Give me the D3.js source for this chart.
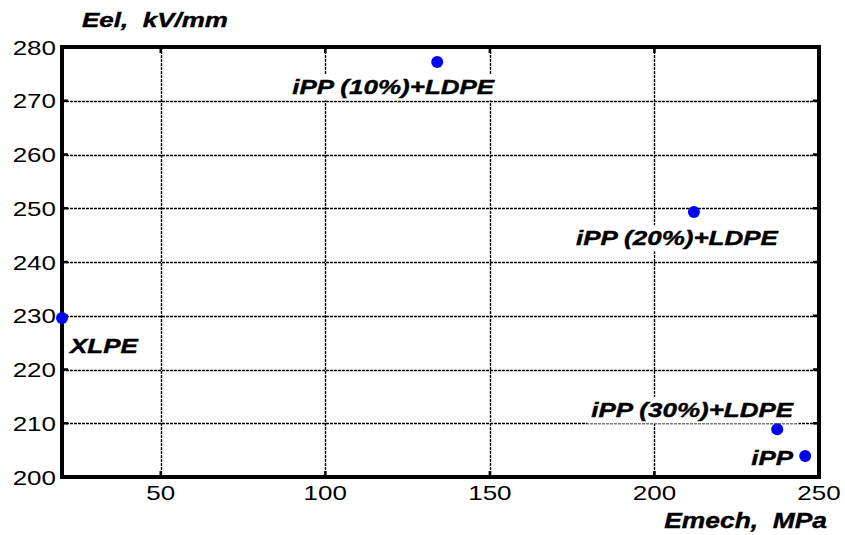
<!DOCTYPE html>
<html>
<head>
<meta charset="utf-8">
<script src="https://cdn.jsdelivr.net/npm/d3@7"></script>
<style>
  body { margin: 0; background: #fff; }
  svg { display: block; }
  text { white-space: pre; }
</style>
</head>
<body>
<div id="chart"></div>
<script>
// Datos
const materials = ["iPP (10%)+LDPE", "iPP (20%)+LDPE", "XLPE", "iPP (30%)+LDPE", "iPP"];
const emech = [134, 212, 20, 237.3, 245.8];
const eel = [277.2, 249.3, 229.6, 208.9, 203.9];
const xTicks = [50, 100, 150, 200, 250];
const yTicks = [200, 210, 220, 230, 240, 250, 260, 270, 280];

// Posición de cada etiqueta respecto a su punto (dx, dy, anclaje)
const labelLayout = [
    {dx: -44, dy: 32, anchor: "middle"},
    {dx: -17, dy: 33, anchor: "middle"},
    {dx: 8, dy: 35, anchor: "start"},
    {dx: -85, dy: -12, anchor: "middle"},
    {dx: -12, dy: 9, anchor: "end"}
];

const W = 845, H = 535;
const plot = {left: 62, right: 819, top: 47, bottom: 477};
const sx = 1.3; // estiramiento horizontal del texto
const font = "'Liberation Sans', Arial, sans-serif";

const svg = d3.select("#chart").append("svg")
    .attr("width", W)
    .attr("height", H);

const x = d3.scaleLinear().domain([20, 250]).range([plot.left, plot.right]);
const y = d3.scaleLinear().domain([200, 280]).range([plot.bottom, plot.top]);

// Texto estirado horizontalmente
function stretchedText(parent, px, py, str, opts) {
    const g = parent.append("g")
        .attr("transform", `translate(${px},${py}) scale(${opts.scale || sx},1)`);
    const t = g.append("text")
        .attr("x", 0)
        .attr("y", 0)
        .attr("text-anchor", opts.anchor || "start")
        .attr("font-family", font)
        .attr("font-size", opts.size || 20)
        .attr("font-weight", opts.bold ? "bold" : "normal")
        .attr("font-style", opts.italic ? "italic" : "normal")
        .attr("fill", "#000")
        .text(str);
    if (opts.bold) t.attr("stroke", "#000").attr("stroke-width", 0.4);
    return {g, t};
}

// Cuadrícula punteada
svg.append("g")
    .selectAll("line")
    .data(xTicks.filter(d => d < 250))
    .enter().append("line")
    .attr("x1", d => Math.round(x(d)) + 0.5).attr("x2", d => Math.round(x(d)) + 0.5)
    .attr("y1", plot.top).attr("y2", plot.bottom)
    .attr("stroke", "#000")
    .attr("stroke-width", 1.4)
    .attr("stroke-dasharray", "3,1");

svg.append("g")
    .selectAll("line")
    .data(yTicks.filter(d => d > 200 && d < 280))
    .enter().append("line")
    .attr("x1", plot.left).attr("x2", plot.right)
    .attr("y1", d => Math.round(y(d)) + 0.5).attr("y2", d => Math.round(y(d)) + 0.5)
    .attr("stroke", "#000")
    .attr("stroke-width", 1.4)
    .attr("stroke-dasharray", "3,1");

// Etiquetas de los materiales con fondo blanco
const labels = svg.append("g");
materials.forEach((name, i) => {
    const L = labelLayout[i];
    const px = x(emech[i]) + L.dx;
    const py = y(eel[i]) + L.dy;
    const {g, t} = stretchedText(labels, px, py, name, {bold: true, italic: true, anchor: L.anchor});
    const bb = t.node().getBBox();
    g.insert("rect", "text")
        .attr("x", bb.x - 4 / sx)
        .attr("y", bb.y - 2)
        .attr("width", bb.width + 8 / sx)
        .attr("height", bb.height + 4)
        .attr("fill", "#fff");
});

// Marco del área de trazado
svg.append("rect")
    .attr("x", plot.left).attr("y", plot.top)
    .attr("width", plot.right - plot.left).attr("height", plot.bottom - plot.top)
    .attr("fill", "none")
    .attr("stroke", "#000")
    .attr("stroke-width", 4);

// Marcas interiores en los cuatro lados
const tickLen = 6;
xTicks.filter(d => d < 250).forEach(d => {
    svg.append("line").attr("x1", x(d)).attr("x2", x(d))
        .attr("y1", plot.bottom).attr("y2", plot.bottom - tickLen)
        .attr("stroke", "#000").attr("stroke-width", 2.5);
    svg.append("line").attr("x1", x(d)).attr("x2", x(d))
        .attr("y1", plot.top).attr("y2", plot.top + tickLen)
        .attr("stroke", "#000").attr("stroke-width", 2.5);
});
yTicks.filter(d => d > 200 && d < 280).forEach(d => {
    svg.append("line").attr("x1", plot.left).attr("x2", plot.left + tickLen)
        .attr("y1", y(d)).attr("y2", y(d))
        .attr("stroke", "#000").attr("stroke-width", 2.5);
    svg.append("line").attr("x1", plot.right).attr("x2", plot.right - tickLen)
        .attr("y1", y(d)).attr("y2", y(d))
        .attr("stroke", "#000").attr("stroke-width", 2.5);
});

// Etiquetas de los ejes
yTicks.forEach(d => {
    stretchedText(svg, plot.left - 6, y(d) + 7.5, d, {anchor: "end"});
});
xTicks.forEach(d => {
    stretchedText(svg, x(d), plot.bottom + 23, d, {anchor: "middle"});
});

// Títulos de los ejes
stretchedText(svg, 82, 27, "Eel,  kV/mm", {bold: true, italic: true, scale: 1.3});
stretchedText(svg, 827, 528, "Emech,  MPa", {bold: true, italic: true, anchor: "end", size: 22, scale: 1.2});

// Puntos
svg.append("g")
    .selectAll("circle")
    .data(materials)
    .enter().append("circle")
    .attr("cx", (d, i) => x(emech[i]))
    .attr("cy", (d, i) => y(eel[i]))
    .attr("r", 6)
    .attr("fill", "#0000f5");
</script>
</body>
</html>
